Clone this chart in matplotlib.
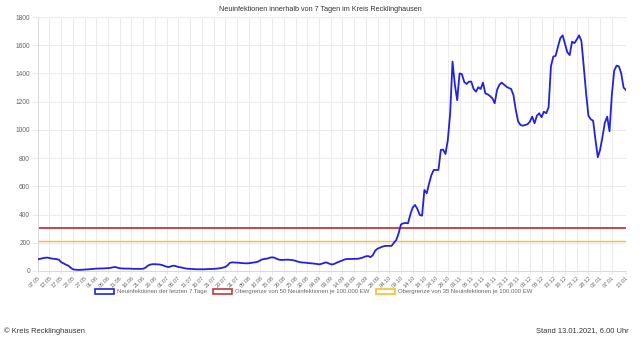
import numpy as np
import pandas as pd
import matplotlib
matplotlib.use("Agg")
import matplotlib.pyplot as plt
from matplotlib.patches import Rectangle

plt.rcParams['font.family'] = ['Liberation Sans', 'DejaVu Sans']

# Daily dates (07.05.2020 - 13.01.2021)
dates = pd.date_range("2020-05-07", "2021-01-13", freq="D")

# 7-day new infections, Kreis Recklinghausen
cases = [
    83, 86, 90, 93, 95, 92, 88, 86, 84, 80,
    62, 54, 45, 38, 24, 12, 9, 8, 8, 9,
    10, 11, 12, 14, 15, 17, 17, 18, 18, 19,
    20, 22, 26, 28, 24, 19, 18, 17, 17, 17,
    16, 15, 15, 15, 15, 16, 24, 38, 45, 48,
    48, 47, 46, 42, 36, 30, 28, 34, 38, 34,
    28, 26, 22, 18, 16, 15, 14, 13, 12, 12,
    12, 12, 13, 14, 14, 15, 16, 18, 20, 24,
    28, 40, 58, 61, 60, 59, 58, 56, 55, 54,
    55, 57, 60, 62, 66, 76, 83, 86, 88, 94,
    97, 94, 86, 80, 78, 79, 80, 80, 78, 76,
    72, 66, 62, 60, 59, 57, 55, 54, 52, 50,
    47, 50, 56, 61, 55, 48, 47, 54, 62, 68,
    75, 82, 85, 85, 85, 86, 86, 88, 92, 97,
    104, 106, 98, 112, 144, 158, 165, 172, 177, 178,
    178, 178, 200, 220, 267, 330, 338, 340, 338, 400,
    450, 468, 440, 397, 392, 574, 551, 620, 680, 716,
    716, 716, 858, 860, 829, 929, 1118, 1484, 1320, 1210,
    1400, 1395, 1340, 1325, 1342, 1342, 1290, 1271, 1302, 1290,
    1335, 1259, 1252, 1240, 1224, 1189, 1283, 1320, 1335, 1320,
    1306, 1297, 1290, 1247, 1141, 1060, 1035, 1030, 1035, 1040,
    1058, 1094, 1047, 1100, 1118, 1090, 1129, 1118, 1160, 1450,
    1519, 1525, 1590, 1650, 1670, 1610, 1550, 1530, 1625, 1615,
    1640, 1670, 1630, 1450, 1260, 1100, 1075, 1065, 930, 806,
    860, 950, 1050, 1094, 990, 1250, 1420, 1455, 1450, 1400,
    1300, 1283,
]

limit_50 = 307  # 50 per 100.000 inhabitants
limit_35 = 215  # 35 per 100.000 inhabitants

x = np.arange(len(dates))
tick_idx = list(range(0, len(dates) - 5, 5)) + [len(dates) - 1]
tick_labels = [dates[i].strftime("%d.%m") for i in tick_idx]

blue = "#2222dd"
red = "#c0393b"
orange = "#f5c02a"
grid_c = "#ebebeb"
txt_c = "#666666"

fig = plt.figure(figsize=(6.4, 3.4), dpi=100)
ax = fig.add_axes([0.059, 0.203, 0.919, 0.747])

ax.plot(x, cases, color=blue, lw=1.3, zorder=3)
ax.plot(x, [limit_50] * len(x), color=red, lw=1.3, zorder=2)
ax.plot(x, [limit_35] * len(x), color=orange, lw=1.0, zorder=2)

ax.set_xlim(0, len(x) - 1)
ax.set_ylim(0, 1800)
ax.set_yticks(np.arange(0, 1801, 200))
ax.set_xticks(tick_idx)
ax.set_xticklabels(tick_labels, rotation=45, ha="right", rotation_mode="anchor")

ax.grid(True, color=grid_c, lw=0.7)
ax.set_axisbelow(True)
for s in ["top", "right"]:
    ax.spines[s].set_visible(False)
for s in ["left", "bottom"]:
    ax.spines[s].set_color("#d9d9d9")
    ax.spines[s].set_linewidth(0.7)
ax.tick_params(axis="y", length=4, color=grid_c, labelsize=4.8, labelcolor=txt_c, pad=1.5)
ax.tick_params(axis="x", length=2, color=grid_c, labelsize=4.1, labelcolor=txt_c, pad=1)

fig.text(0.5, 0.973, "Neuinfektionen innerhalb von 7 Tagen im Kreis Recklinghausen",
         ha="center", va="center", fontsize=5.2, color="#333333")

# legend boxes
handles = [Rectangle((0, 0), 1, 1, facecolor="white", edgecolor=c, lw=1.2)
           for c in (blue, red, orange)]
labels = ["Neuinfektionen der letzten 7 Tage",
          "Obergrenze von 50 Neuinfektionen je 100.000 EW",
          "Obergrenze von 35 Neuinfektionen je 100.000 EW"]
leg = fig.legend(handles, labels, loc="center", bbox_to_anchor=(0.49, 0.143), ncol=3,
                 frameon=False, fontsize=4.3, handlelength=3.2, handleheight=1.0,
                 columnspacing=1.0, handletextpad=0.5)
for t in leg.get_texts():
    t.set_color(txt_c)

fig.text(0.006, 0.027, "\u00a9 Kreis Recklinghausen", ha="left", va="center",
         fontsize=5.4, color="#333333")
fig.text(0.983, 0.027, "Stand 13.01.2021, 6.00 Uhr", ha="right", va="center",
         fontsize=5.4, color="#333333")

fig.savefig("out.png", dpi=100)
